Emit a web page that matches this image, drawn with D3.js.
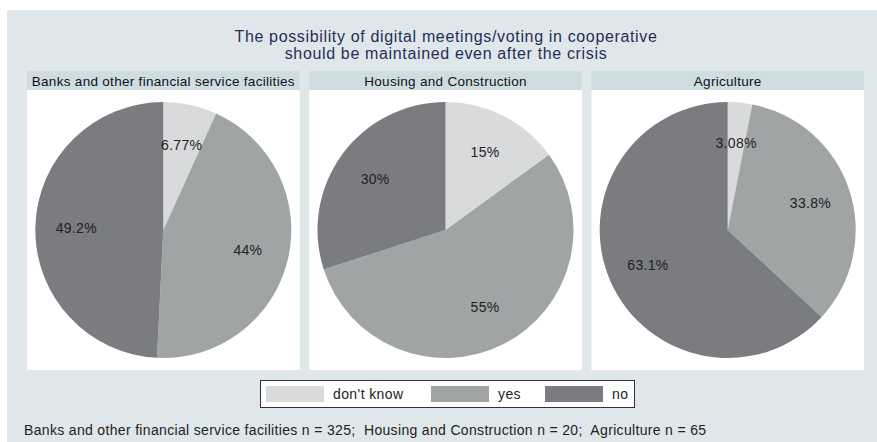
<!DOCTYPE html>
<html>
<head>
<meta charset="utf-8">
<script src="https://cdn.jsdelivr.net/npm/d3@7"></script>
<style>
  html, body { margin: 0; padding: 0; background: #ffffff; }
  svg { display: block; font-family: "Liberation Sans", Arial, sans-serif; }
</style>
</head>
<body>
<svg id="chart" width="877" height="442"></svg>
<script>
// Sectors shown as panels
const sectors = ["Banks and other financial service facilities", "Housing and Construction", "Agriculture"];
// Answer categories (drawn clockwise from 12 o'clock)
const answers = ["don't know", "yes", "no"];
// Percent shares per sector, in the order of answers
const banksValues = [6.77, 44, 49.2];
const housingValues = [15, 55, 30];
const agricultureValues = [3.08, 33.8, 63.1];
// Percent labels as printed
const banksLabels = ["6.77%", "44%", "49.2%"];
const housingLabels = ["15%", "55%", "30%"];
const agricultureLabels = ["3.08%", "33.8%", "63.1%"];
// Sample sizes
const sampleSizes = [325, 20, 65];

const titleLines = ["The possibility of digital meetings/voting in cooperative", "should be maintained even after the crisis"];

const panelValues = [banksValues, housingValues, agricultureValues];
const panelLabels = [banksLabels, housingLabels, agricultureLabels];

const svg = d3.select("#chart");
const W = 877, H = 442;

// outer plot region background
svg.append("rect").attr("x", 7).attr("y", 10).attr("width", W - 7).attr("height", H - 10)
  .attr("fill", "#dfe7ea");

// title
svg.append("g").selectAll("text").data(titleLines).join("text")
  .attr("x", 446).attr("y", (d, i) => 42 + i * 16.5)
  .attr("text-anchor", "middle")
  .attr("font-size", 16)
  .attr("letter-spacing", 0.65)
  .attr("fill", "#1f2f55")
  .text(d => d);

const color = d3.scaleOrdinal().domain(answers).range(["#d9dadb", "#a1a4a5", "#7b7c7f"]);

// panel layout
const panelX = d3.scaleBand().domain(sectors).range([27, 864]).paddingInner(0.034);
const headerTop = 71, headerH = 19, panelBottom = 370;

const pie = d3.pie().sort(null).value(d => d.value);
const R = 128;
const arc = d3.arc().innerRadius(0).outerRadius(R);
const labelArc = d3.arc().innerRadius(R * 0.68).outerRadius(R * 0.68);

sectors.forEach((s, i) => {
  const x0 = panelX(s), bw = panelX.bandwidth();
  const g = svg.append("g");
  g.append("rect").attr("x", x0).attr("y", headerTop).attr("width", bw).attr("height", headerH)
    .attr("fill", "#cfdde2");
  g.append("text").attr("x", x0 + bw / 2).attr("y", headerTop + 14.5)
    .attr("text-anchor", "middle").attr("font-size", 13.5).attr("letter-spacing", 0.3)
    .attr("fill", "#111")
    .text(s);
  g.append("rect").attr("x", x0).attr("y", headerTop + headerH).attr("width", bw)
    .attr("height", panelBottom - headerTop - headerH).attr("fill", "#ffffff");

  const cx = x0 + bw / 2, cy = (headerTop + headerH + panelBottom) / 2;
  const data = answers.map((a, j) => ({ answer: a, value: panelValues[i][j], label: panelLabels[i][j] }));
  const arcs = pie(data);
  const pg = g.append("g").attr("transform", `translate(${cx},${cy})`);
  pg.selectAll("path").data(arcs).join("path")
    .attr("d", arc).attr("fill", d => color(d.data.answer));
  pg.selectAll("text").data(arcs).join("text")
    .attr("transform", d => `translate(${labelArc.centroid(d)})`)
    .attr("text-anchor", "middle").attr("dy", "0.35em")
    .attr("font-size", 14).attr("letter-spacing", 0.3).attr("fill", "#222")
    .text(d => d.data.label);
});

// legend
const lg = svg.append("g");
lg.append("rect").attr("x", 260.5).attr("y", 380.5).attr("width", 374).attr("height", 27)
  .attr("fill", "#ffffff").attr("stroke", "#333").attr("stroke-width", 1);
const legendX = d3.scaleOrdinal().domain(answers).range([266, 431, 545]);
answers.forEach((a) => {
  const lx = legendX(a);
  lg.append("rect").attr("x", lx).attr("y", 386).attr("width", 58).attr("height", 16)
    .attr("fill", color(a));
  lg.append("text").attr("x", lx + 67).attr("y", 399)
    .attr("font-size", 14).attr("letter-spacing", 0.4).attr("fill", "#222").text(a);
});

// footnote
svg.append("text").attr("x", 24).attr("y", 435)
  .attr("font-size", 14).attr("letter-spacing", 0.33).attr("fill", "#222")
  .style("white-space", "pre")
  .text(sectors.map((s, i) => `${s} n = ${sampleSizes[i]}`).join(";  "));
</script>
</body>
</html>
